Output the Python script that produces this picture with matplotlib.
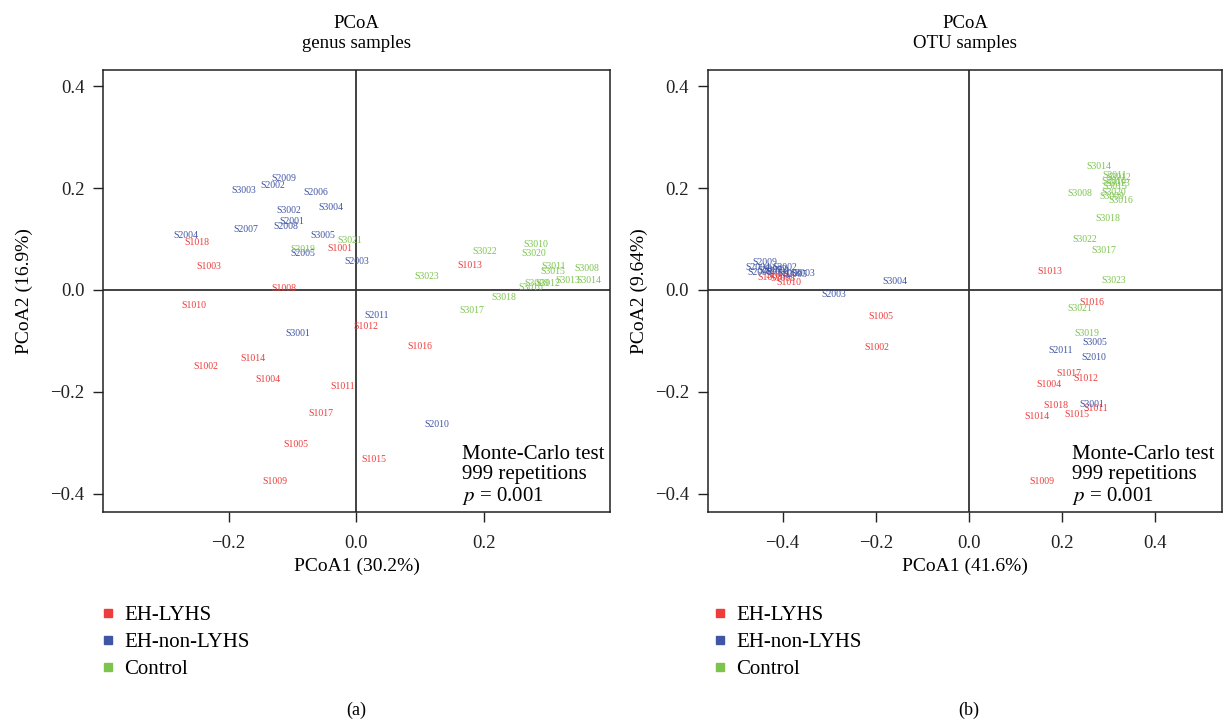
import matplotlib
matplotlib.use("Agg")
import matplotlib.pyplot as plt
from matplotlib.lines import Line2D

plt.rcParams['font.family'] = ['Liberation Serif', 'DejaVu Serif']
plt.rcParams['mathtext.fontset'] = 'stix'

# 颜色
red = '#ee3b3b'
blue = '#3f55a5'
green = '#7cc44e'

# ---- (a) genus ----
genus_names = ['S1001', 'S1002', 'S1003', 'S1004', 'S1005', 'S1008', 'S1009', 'S1010',
               'S1011', 'S1012', 'S1013', 'S1014', 'S1015', 'S1016', 'S1017', 'S1018',
               'S2001', 'S2002', 'S2003', 'S2004', 'S2005', 'S2006', 'S2007', 'S2008',
               'S2009', 'S2010', 'S2011', 'S3001', 'S3002', 'S3003', 'S3004', 'S3005',
               'S3008', 'S3009', 'S3010', 'S3011', 'S3012', 'S3013', 'S3014', 'S3015',
               'S3016', 'S3017', 'S3018', 'S3019', 'S3020', 'S3021', 'S3022', 'S3023']
genus_groups = ['EH-LYHS'] * 16 + ['EH-non-LYHS'] * 16 + ['Control'] * 16
genus_x = [-0.025, -0.236, -0.231, -0.138, -0.094, -0.113, -0.127, -0.254,
           -0.021, 0.015, 0.178, -0.162, 0.027, 0.100, -0.056, -0.250,
           -0.101, -0.131, 0.001, -0.267, -0.084, -0.064, -0.173, -0.110,
           -0.113, 0.127, 0.032, -0.092, -0.105, -0.177, -0.040, -0.053,
           0.361, 0.284, 0.281, 0.309, 0.301, 0.331, 0.365, 0.309,
           0.273, 0.181, 0.231, -0.084, 0.279, -0.010, 0.201, 0.110]
genus_y = [0.081, -0.151, 0.046, -0.176, -0.304, 0.003, -0.377, -0.031,
           -0.190, -0.071, 0.049, -0.135, -0.333, -0.111, -0.243, 0.093,
           0.134, 0.205, 0.056, 0.107, 0.071, 0.191, 0.119, 0.124,
           0.218, -0.265, -0.050, -0.086, 0.156, 0.195, 0.162, 0.107,
           0.042, 0.012, 0.089, 0.047, 0.012, 0.019, 0.018, 0.036,
           0.005, -0.041, -0.015, 0.080, 0.071, 0.097, 0.075, 0.026]

# ---- (b) OTU ----
otu_names = genus_names
otu_groups = genus_groups
otu_x = [-0.410, -0.197, -0.427, 0.171, -0.189, -0.399, 0.157, -0.386,
         0.271, 0.251, 0.174, 0.145, 0.232, 0.264, 0.215, 0.187,
         -0.410, -0.395, -0.290, -0.453, -0.373, -0.384, -0.427, -0.448,
         -0.438, 0.267, 0.197, 0.264, -0.416, -0.356, -0.159, 0.269,
         0.237, 0.306, 0.310, 0.312, 0.322, 0.320, 0.279, 0.312,
         0.325, 0.290, 0.297, 0.252, 0.311, 0.237, 0.248, 0.310]
otu_y = [0.028, -0.112, 0.024, -0.185, -0.053, 0.022, -0.376, 0.014,
         -0.233, -0.174, 0.036, -0.249, -0.244, -0.025, -0.164, -0.226,
         0.037, 0.045, -0.008, 0.045, 0.030, 0.033, 0.039, 0.035,
         0.053, -0.133, -0.118, -0.225, 0.041, 0.032, 0.016, -0.103,
         0.190, 0.183, 0.213, 0.224, 0.220, 0.209, 0.243, 0.204,
         0.176, 0.078, 0.140, -0.085, 0.192, -0.037, 0.100, 0.018]

group_colors = {'EH-LYHS': red, 'EH-non-LYHS': blue, 'Control': green}

fig = plt.figure(figsize=(12.28, 7.22), dpi=100)
ax1 = fig.add_axes([103 / 1228, 1 - 512 / 722, 507 / 1228, 442 / 722])
ax2 = fig.add_axes([708 / 1228, 1 - 512 / 722, 514 / 1228, 442 / 722])


def fmt(t):
    s = '%.1f' % abs(t)
    return '\u2212' + s if t < 0 else s


def draw_panel(ax, names, groups, xs, ys, title, xlabel, ylabel, xlim, xticks, ypad):
    for n, g, x, y in zip(names, groups, xs, ys):
        ax.text(x, y, n, color=group_colors[g], fontsize=7, ha='center', va='center')
    ax.axhline(0, color='#333333', lw=1.3)
    ax.axvline(0, color='#333333', lw=1.3)
    ax.set_xlim(xlim)
    ax.set_ylim(-0.436, 0.432)
    ax.set_xticks(xticks)
    ax.set_xticklabels([fmt(t) for t in xticks])
    yt = [-0.4, -0.2, 0.0, 0.2, 0.4]
    ax.set_yticks(yt)
    ax.set_yticklabels([fmt(t) for t in yt])
    ax.tick_params(direction='out', length=7.5, width=1, labelsize=13.5, colors='#222222')
    ax.tick_params(axis='x', pad=9)
    ax.tick_params(axis='y', pad=6)
    for s in ax.spines.values():
        s.set_linewidth(1.1)
        s.set_color('#222222')
    ax.set_title(title, fontsize=13.5, pad=16, linespacing=1.2)
    ax.set_xlabel(xlabel, fontsize=14, labelpad=4)
    ax.set_ylabel(ylabel, fontsize=14, labelpad=ypad)
    # 检验结果
    ax.text(0.709, 0.151, 'Monte-Carlo test\n999 repetitions\n$p$ = 0.001',
            transform=ax.transAxes, fontsize=15, ha='left', va='top', linespacing=1.05)


draw_panel(ax1, genus_names, genus_groups, genus_x, genus_y,
           'PCoA\ngenus samples', 'PCoA1 (30.2%)', 'PCoA2 (16.9%)',
           (-0.397, 0.398), [-0.2, 0.0, 0.2], 12)
draw_panel(ax2, otu_names, otu_groups, otu_x, otu_y,
           'PCoA\nOTU samples', 'PCoA1 (41.6%)', 'PCoA2 (9.64%)',
           (-0.560, 0.543), [-0.4, -0.2, 0.0, 0.2, 0.4], 5)

# 图例
handles = [Line2D([], [], marker='s', color=c, ls='', markersize=5.5)
           for c in [red, blue, green]]
labels = ['EH-LYHS', 'EH-non-LYHS', 'Control']
for left in [92, 704]:
    fig.legend(handles, labels, loc='upper left', bbox_to_anchor=(left / 1228, 1 - 597 / 722),
               frameon=False, fontsize=15, handlelength=0.7, handletextpad=0.45,
               labelspacing=0.36, borderaxespad=0)

fig.text(356 / 1228, 1 - 710 / 722, '(a)', ha='center', va='center', fontsize=13)
fig.text(969 / 1228, 1 - 710 / 722, '(b)', ha='center', va='center', fontsize=13)

plt.savefig('out.png', dpi=100)
